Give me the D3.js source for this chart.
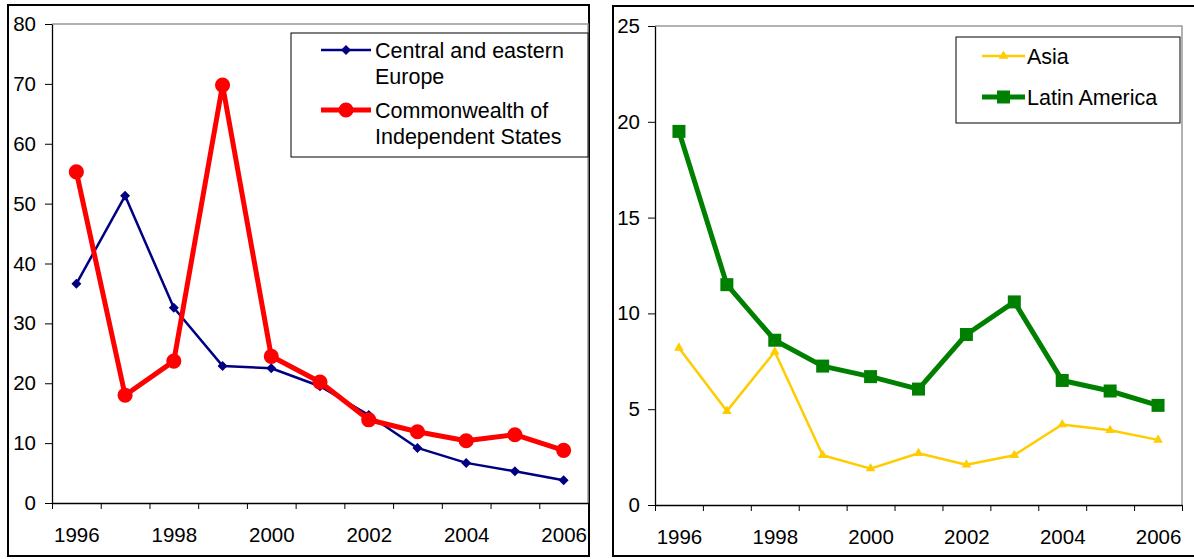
<!DOCTYPE html>
<html>
<head>
<meta charset="utf-8">
<script src="https://cdn.jsdelivr.net/npm/d3@7"></script>
<style>
    body { margin: 0; background: #fff; }
    svg text { font-family: "Liberation Sans", Arial, sans-serif; fill: #000; }
</style>
</head>
<body>
<div id="chart"></div>
<script>
// data
const years = [1996, 1997, 1998, 1999, 2000, 2001, 2002, 2003, 2004, 2005, 2006];
const yearLabels = ["1996", "1998", "2000", "2002", "2004", "2006"];

const ceeValues = [36.6, 51.3, 32.6, 22.9, 22.5, 19.5, 14.7, 9.2, 6.7, 5.3, 3.8];
const cisValues = [55.3, 18.0, 23.7, 69.8, 24.5, 20.2, 13.9, 11.9, 10.4, 11.4, 8.8];
const asiaValues = [8.2, 4.9, 8.0, 2.6, 1.9, 2.7, 2.1, 2.6, 4.2, 3.9, 3.4];
const latinValues = [19.5, 11.5, 8.6, 7.25, 6.7, 6.05, 8.9, 10.6, 6.5, 5.95, 5.2];

const leftTicks = [0, 10, 20, 30, 40, 50, 60, 70, 80];
const rightTicks = [0, 5, 10, 15, 20, 25];

class LineChart {
    constructor(svg, opts) {
        this.svg = svg;
        this.opts = opts;
        this.initVis();
    }

    initVis() {
        let vis = this;
        let o = vis.opts;

        // outer frame
        vis.svg.append("rect")
            .attr("x", o.frame[0]).attr("y", o.frame[1])
            .attr("width", o.frame[2]).attr("height", o.frame[3])
            .attr("fill", "#fff").attr("stroke", "#000").attr("stroke-width", 2);

        vis.x = d3.scaleLinear().domain([0, years.length]).range([o.plot.left, o.plot.right]);
        vis.y = d3.scaleLinear().domain([0, d3.max(o.yTicks)]).range([o.plot.bottom, o.plot.top]);

        // plot area border (top + right gray)
        vis.svg.append("path")
            .attr("d", `M${o.plot.left},${o.plot.top}H${o.plot.right}V${o.plot.bottom}`)
            .attr("fill", "none").attr("stroke", "#999").attr("stroke-width", 1.5);

        // y axis
        let yAxis = vis.svg.append("g")
            .attr("transform", `translate(${o.plot.left},0)`)
            .call(d3.axisLeft(vis.y).tickValues(o.yTicks).tickSize(7).tickPadding(o.yPad).tickSizeOuter(0));
        yAxis.selectAll("text").style("font-size", "20.5px");

        // x axis: tick marks on category boundaries
        vis.svg.append("g")
            .attr("transform", `translate(0,${o.plot.bottom})`)
            .call(d3.axisBottom(vis.x).tickValues(d3.range(years.length + 1)).tickSize(6).tickFormat("").tickSizeOuter(0));

        // x labels, every other year
        let xLab = vis.svg.append("g")
            .attr("transform", `translate(0,${o.plot.bottom})`)
            .call(d3.axisBottom(vis.x)
                .tickValues(yearLabels.map(l => years.indexOf(+l) + 0.5))
                .tickFormat(v => years[Math.floor(v)])
                .tickSize(0).tickPadding(24));
        xLab.select(".domain").remove();
        xLab.selectAll("text").style("font-size", "20.5px");

        vis.svg.selectAll(".domain").attr("stroke", "#000").attr("stroke-width", 1.3);

        // series
        o.series.forEach(s => {
            let line = d3.line()
                .x((d, i) => vis.x(i + 0.5))
                .y(d => vis.y(d));
            vis.svg.append("path")
                .datum(s.values)
                .attr("d", line)
                .attr("fill", "none")
                .attr("stroke", s.color)
                .attr("stroke-width", s.width)
                .attr("stroke-linejoin", "round");
            vis.svg.selectAll(null)
                .data(s.values)
                .enter()
                .append("path")
                .attr("d", d3.symbol(s.symbol, s.size))
                .attr("transform", (d, i) => `translate(${vis.x(i + 0.5)},${vis.y(d)}) rotate(${s.rotate || 0})`)
                .attr("fill", s.color);
        });

        // legend
        let L = o.legend;
        vis.svg.append("rect")
            .attr("x", L.box[0]).attr("y", L.box[1])
            .attr("width", L.box[2]).attr("height", L.box[3])
            .attr("fill", "#fff").attr("stroke", "#000").attr("stroke-width", 1);
        o.series.forEach((s, k) => {
            let ly = L.rows[k];
            vis.svg.append("line")
                .attr("x1", L.lineX[0]).attr("x2", L.lineX[1])
                .attr("y1", ly).attr("y2", ly)
                .attr("stroke", s.color).attr("stroke-width", s.width);
            vis.svg.append("path")
                .attr("d", d3.symbol(s.symbol, s.size))
                .attr("transform", `translate(${(L.lineX[0] + L.lineX[1]) / 2},${ly}) rotate(${s.rotate || 0})`)
                .attr("fill", s.color);
            s.label.forEach((t, j) => {
                vis.svg.append("text")
                    .attr("x", L.textX)
                    .attr("y", ly + 7.5 + j * L.lineHeight)
                    .style("font-size", "21.5px")
                    .text(t);
            });
        });
    }
}

let svg = d3.select("#chart").append("svg")
    .attr("width", 1194)
    .attr("height", 559);

new LineChart(svg, {
    frame: [8, 5, 581, 551],
    plot: {left: 52, right: 588, top: 24, bottom: 503},
    yTicks: leftTicks,
    yPad: 9,
    series: [
        {label: ["Central and eastern", "Europe"], values: ceeValues, color: "#000080", width: 2.5,
            symbol: d3.symbolSquare, size: 50, rotate: 45},
        {label: ["Commonwealth of", "Independent States"], values: cisValues, color: "#ff0000", width: 5,
            symbol: d3.symbolCircle, size: 180}
    ],
    legend: {box: [291, 33, 297, 124], rows: [50, 110], lineX: [321, 371], textX: 375, lineHeight: 26}
});

new LineChart(svg, {
    frame: [613, 6, 590, 550],
    plot: {left: 655, right: 1182, top: 26, bottom: 505},
    yTicks: rightTicks,
    yPad: 8,
    series: [
        {label: ["Asia"], values: asiaValues, color: "#ffcc00", width: 2.5,
            symbol: d3.symbolTriangle, size: 40},
        {label: ["Latin America"], values: latinValues, color: "#008000", width: 5,
            symbol: d3.symbolSquare, size: 169}
    ],
    legend: {box: [956, 37, 224, 86], rows: [56, 97], lineX: [982, 1025], textX: 1027, lineHeight: 26}
});
</script>
</body>
</html>
